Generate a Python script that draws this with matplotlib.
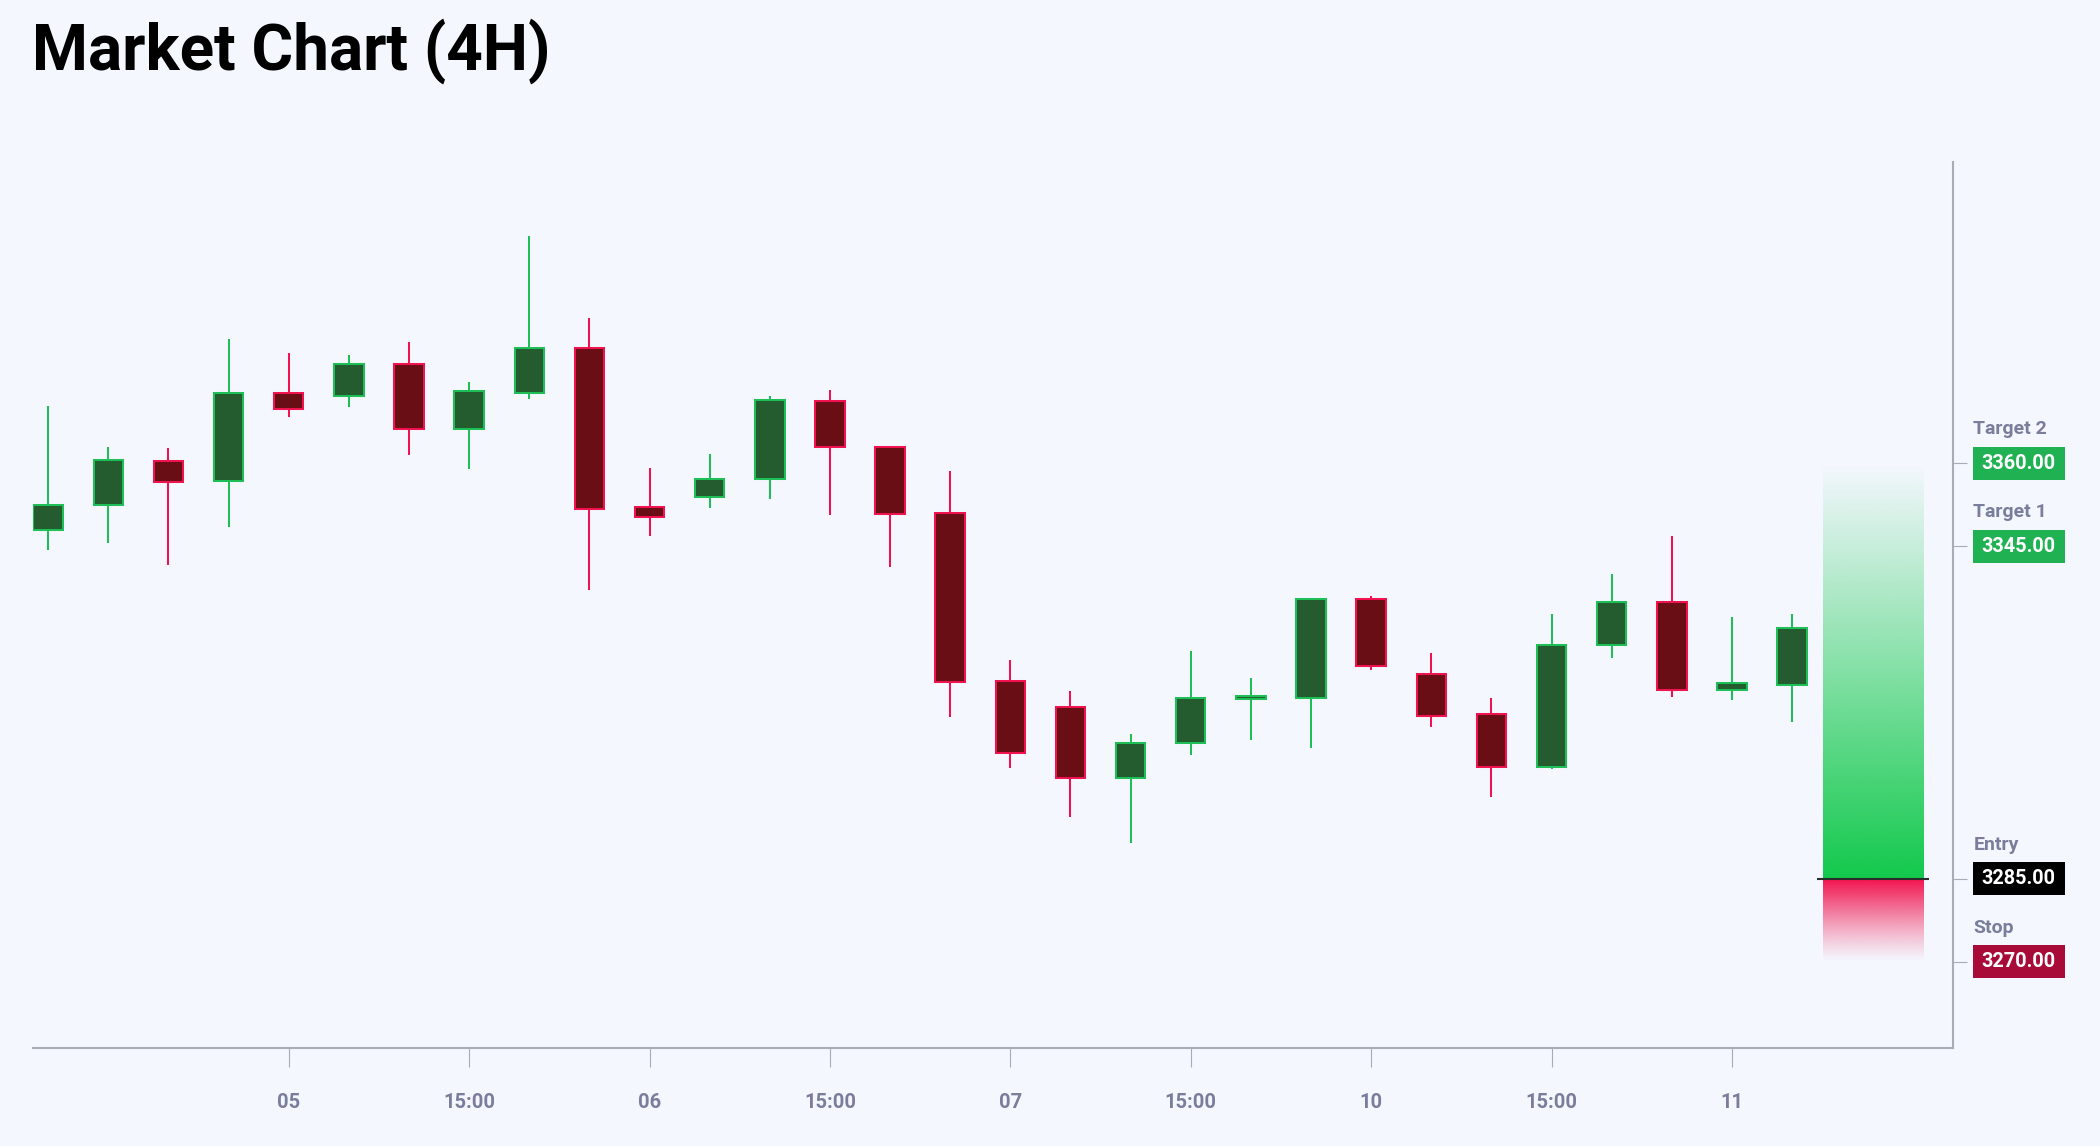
import matplotlib
matplotlib.use("Agg")
import matplotlib.pyplot as plt
import numpy as np
from matplotlib.patches import Rectangle
from matplotlib.transforms import blended_transform_factory

plt.rcParams["font.family"] = ["Roboto", "DejaVu Sans"]

# 4H candles, oldest first
opens = [3347.9, 3352.5, 3360.5, 3356.9, 3372.7, 3372.1, 3378.0, 3366.2, 3372.8, 3380.9,
         3352.1, 3353.9, 3357.2, 3371.3, 3363.0, 3351.0, 3320.6, 3315.9, 3303.2, 3309.4,
         3317.4, 3317.7, 3335.5, 3322.0, 3314.7, 3305.1, 3327.1, 3335.0, 3319.1, 3320.0]
highs = [3370.4, 3362.9, 3362.7, 3382.4, 3379.9, 3379.6, 3381.9, 3374.7, 3401.1, 3386.2,
         3359.1, 3361.7, 3372.2, 3373.3, 3363.0, 3358.7, 3324.5, 3318.9, 3311.1, 3326.1,
         3321.2, 3335.5, 3336.0, 3325.7, 3317.7, 3332.7, 3340.1, 3346.9, 3332.3, 3332.8]
lows = [3344.3, 3345.7, 3341.6, 3348.5, 3368.4, 3370.1, 3361.6, 3359.0, 3371.7, 3337.1,
        3346.8, 3352.0, 3353.6, 3350.6, 3341.2, 3314.1, 3304.9, 3296.1, 3291.4, 3307.4,
        3310.0, 3308.5, 3322.7, 3312.4, 3299.8, 3304.7, 3324.8, 3317.8, 3317.2, 3313.3]
closes = [3352.5, 3360.6, 3356.6, 3372.8, 3369.8, 3378.0, 3366.2, 3373.0, 3380.9, 3351.8,
          3350.3, 3357.2, 3371.4, 3363.0, 3350.9, 3320.5, 3307.7, 3303.2, 3309.5, 3317.7,
          3317.9, 3335.5, 3323.4, 3314.4, 3305.1, 3327.2, 3335.0, 3319.1, 3320.3, 3330.3]

tick_idx = [4, 7, 10, 13, 16, 19, 22, 25, 28]
tick_labels = ["05", "15:00", "06", "15:00", "07", "15:00", "10", "15:00", "11"]

level_names = ["Target 2", "Target 1", "Entry", "Stop"]
level_prices = [3360.0, 3345.0, 3285.0, 3270.0]
level_colors = ["#1fb152", "#1fb152", "#000000", "#a80b38"]

entry = 3285.0
target = 3360.0
stop = 3270.0

bg = "#f4f7fe"
up_fill, up_edge = "#245c2f", "#1fbf58"
dn_fill, dn_edge = "#690e15", "#f2124f"
axis_gray = "#a9acb4"
label_gray = "#7a7e9b"

fig = plt.figure(figsize=(21, 11.46), dpi=100, facecolor=bg)
ax = fig.add_axes([0.01595, 0.08595, 0.9139, 0.77269], facecolor=bg)

x = np.arange(len(opens))
o = np.array(opens)
c = np.array(closes)
up = c >= o
wick_cols = np.where(up, up_edge, dn_edge)
ax.vlines(x, lows, highs, colors=wick_cols, linewidth=1.45, zorder=2)
body_lo = np.minimum(o, c)
body_h = np.maximum(np.abs(c - o), 0.3)
ax.bar(x, body_h, bottom=body_lo, width=0.49,
       color=np.where(up, up_fill, dn_fill), edgecolor=wick_cols,
       linewidth=1.45, zorder=3)

# risk / reward zone
zx0, zx1 = 29.51, 31.18
n = 256
ramp = np.linspace(1, 0, n).reshape(-1, 1)
green = np.zeros((n, 1, 4))
green[..., :3] = matplotlib.colors.to_rgb("#12c94c")
green[..., 3] = ramp
ax.imshow(green, extent=(zx0, zx1, entry, target), origin="lower",
          aspect="auto", interpolation="bilinear", zorder=1)
red = np.zeros((n, 1, 4))
red[..., :3] = matplotlib.colors.to_rgb("#f2104c")
red[..., 3] = ramp[::-1] ** 1.2
ax.imshow(red, extent=(zx0, zx1, stop, entry), origin="lower",
          aspect="auto", interpolation="bilinear", zorder=1)
ax.hlines(entry, 29.41, 31.28, color="#2b2b2b", linewidth=1.5, zorder=4)

ax.set_xlim(-0.244, 31.67)
ax.set_ylim(3254.47, 3414.45)

for side in ["top", "left"]:
    ax.spines[side].set_visible(False)
for side in ["bottom", "right"]:
    ax.spines[side].set_color(axis_gray)
    ax.spines[side].set_linewidth(1.5)

ax.set_xticks(tick_idx, tick_labels)
ax.tick_params(axis="x", length=13.7, width=0.8, color=axis_gray, pad=19,
               labelsize=14.5, labelcolor=label_gray)
for lbl in ax.get_xticklabels():
    lbl.set_fontweight("bold")

ax.yaxis.tick_right()
ax.set_yticks(level_prices, [""] * len(level_prices))
ax.tick_params(axis="y", length=10, width=0.8, color=axis_gray)

# price level tags on the right
ppu = ax.bbox.height / (3414.45 - 3254.47)
tr = blended_transform_factory(fig.transFigure, ax.transData)
bx0, bx1 = 1972.7 / 2100, 2065 / 2100
box_h = 33.3 / ppu
for name, price, col in zip(level_names, level_prices, level_colors):
    ax.add_patch(Rectangle((bx0, price - box_h / 2), bx1 - bx0, box_h,
                           transform=tr, facecolor=col, edgecolor="none",
                           clip_on=False, zorder=5))
    ax.text((bx0 + bx1) / 2, price, f"{price:.2f}", transform=tr,
            ha="center", va="center", color="white", fontsize=14.3,
            fontweight="bold", clip_on=False, zorder=6)
    ax.annotate(name, xy=(1973.3 / 2100, price),
                xycoords=("figure fraction", "data"),
                xytext=(0, 29), textcoords="offset pixels",
                ha="left", va="baseline", color=label_gray, fontsize=14,
                fontweight="bold", annotation_clip=False)

fig.text(32 / 2100, 1 - 70 / 1146, "Market Chart (4H)", fontsize=46,
         fontweight="bold", color="black", ha="left", va="baseline")

fig.savefig("out.png", dpi=100, facecolor=bg)
